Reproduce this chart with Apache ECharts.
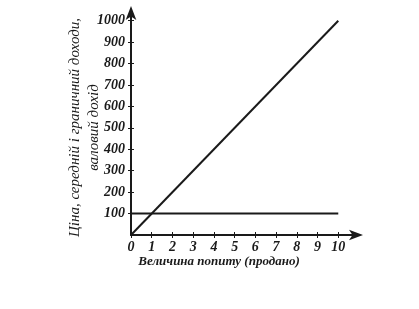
<!DOCTYPE html>
<html><head><meta charset="utf-8">
<script src="https://cdn.jsdelivr.net/npm/echarts@6/dist/echarts.min.js"></script>
<style>html,body{margin:0;padding:0;background:#fff}#c{width:419px;height:309px}</style>
</head><body><div id="c"></div>
<script>
const xTicks = [0,1,2,3,4,5,6,7,8,9,10];
const yTicks = [0,100,200,300,400,500,600,700,800,900,1000];
const quantity = [0, 10];
const totalRevenue = [0, 1000];
const priceMR = [100, 100];
const names = ['ВД', 'П = ГД'];
const xName = 'Величина попиту (продано)';
const yName = 'Ціна, середній і граничний доходи,\nваловий дохід';

const font = 'Liberation Serif';
const ink = '#1a1a1a';
const tickFont = {fontFamily: font, fontStyle: 'italic', fontWeight: 'bold', fontSize: 14, color: ink};
const chart = echarts.init(document.getElementById('c'));
const yTickVals = yTicks.slice(1);
chart.setOption({
  animation: false,
  backgroundColor: '#fff',
  grid: {left: 131, right: 60, top: 10, bottom: 74},
  xAxis: [{
    type: 'value', min: 0, max: 11,
    axisLine: {show: true, lineStyle: {color: ink, width: 2}, symbol: ['none','arrow'], symbolSize: [8, 14], symbolOffset: [0, 4]},
    axisTick: {show: true, customValues: xTicks, length: 3, lineStyle: {color: ink}},
    axisLabel: Object.assign({customValues: xTicks, formatter: v => String(v), margin: 5}, tickFont),
    splitLine: {show: false},
    name: xName, nameLocation: 'middle', nameGap: 20, nameMoveOverlap: false,
    nameTextStyle: {fontFamily: font, fontStyle: 'italic', fontWeight: 'bold', fontSize: 13, color: ink, padding: [0, 52, 0, 0]}
  }, {
    type: 'value', min: 0, max: 11, position: 'bottom',
    axisLine: {show: false},
    axisTick: {show: true, inside: true, customValues: xTicks, length: 3, lineStyle: {color: ink}},
    axisLabel: {show: false}, splitLine: {show: false}
  }],
  yAxis: [{
    type: 'value', min: 0, max: 1050,
    axisLine: {show: true, lineStyle: {color: ink, width: 2}, symbol: ['none','arrow'], symbolSize: [8, 14], symbolOffset: [0, 4]},
    axisTick: {show: true, customValues: yTickVals, length: 3, lineStyle: {color: ink}},
    axisLabel: Object.assign({customValues: yTickVals, formatter: v => String(v), margin: 6}, tickFont),
    splitLine: {show: false},
    name: yName, nameLocation: 'middle', nameGap: 27, nameRotate: 90, nameMoveOverlap: false,
    nameTextStyle: {fontFamily: font, fontStyle: 'italic', fontSize: 15, color: ink, lineHeight: 19, padding: [0, 10, 0, 0]}
  }, {
    type: 'value', min: 0, max: 1050, position: 'left',
    axisLine: {show: false},
    axisTick: {show: true, inside: true, customValues: yTickVals, length: 3, lineStyle: {color: ink}},
    axisLabel: {show: false}, splitLine: {show: false}
  }],
  series: [
    {
      type: 'line', name: names[0], symbol: 'none',
      data: quantity.map((q, i) => [q, totalRevenue[i]]),
      lineStyle: {color: ink, width: 2},
      label: {show: true, formatter: p => p.dataIndex === 1 ? names[0] : '', position: 'right', offset: [4, -6],
        fontFamily: font, fontStyle: 'italic', fontSize: 14, color: ink}
    },
    {
      type: 'line', name: names[1], symbol: 'none',
      data: quantity.map((q, i) => [q, priceMR[i]]),
      lineStyle: {color: ink, width: 2},
      label: {show: true, formatter: p => p.dataIndex === 1 ? names[1] : '', position: 'top', offset: [-26, -2],
        fontFamily: font, fontStyle: 'italic', fontSize: 14, color: ink}
    }
  ]
});
</script></body></html>
